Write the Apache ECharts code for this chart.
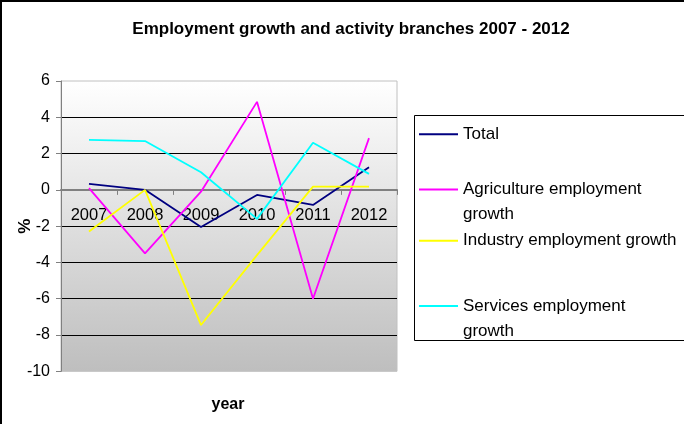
<!DOCTYPE html>
<html>
<head>
<meta charset="utf-8">
<script src="https://cdn.jsdelivr.net/npm/echarts@6/dist/echarts.min.js"></script>
<style>
  html, body { margin: 0; padding: 0; background: #fff; }
  #chart { width: 684px; height: 424px; }
</style>
</head>
<body>
<div id="chart"></div>
<script>
// Years on the category axis
const years = ['2007', '2008', '2009', '2010', '2011', '2012'];

// Annual employment growth, %
const totalGrowth       = [0.33, 0.0, -2.05, -0.28, -0.83, 1.25];
const agricultureGrowth = [0.1, -3.5, -0.1, 4.85, -6.0, 2.85];
const industryGrowth    = [-2.3, 0.0, -7.45, -3.6, 0.18, 0.18];
const servicesGrowth    = [2.76, 2.69, 0.97, -1.6, 2.6, 0.88];

// Value axis ticks
const yMin = -10, yMax = 6, yStep = 2;

const seriesNames = [
  'Total',
  'Agriculture employment growth',
  'Industry employment growth',
  'Services employment growth'
];
const seriesColors = ['#000080', '#FF00FF', '#FFFF00', '#00FFFF'];
const seriesData = [totalGrowth, agricultureGrowth, industryGrowth, servicesGrowth];

const FONT = "'Liberation Sans', Arial, sans-serif";

// Plot box
const GRID = { left: 61, top: 81, width: 336, height: 290.3 };

// Legend entries: each one is placed on its own; wrapped labels get a blank
// leading line so that the first text line sits level with the swatch
const LINE_H = 25;
const legendRows = [
  { name: seriesNames[0], iconY: 134.3, label: 'Total', lines: 1 },
  { name: seriesNames[1], iconY: 189.5, label: '\nAgriculture employment\ngrowth', lines: 3 },
  { name: seriesNames[2], iconY: 240.7, label: 'Industry employment growth', lines: 1 },
  { name: seriesNames[3], iconY: 306.0, label: '\nServices employment\ngrowth', lines: 3 }
];

const chart = echarts.init(document.getElementById('chart'), null, { renderer: 'canvas' });

// Category axis sits on the zero line of the value axis
const zeroOffset = -GRID.height * (0 - yMin) / (yMax - yMin);

chart.setOption({
  animation: false,
  backgroundColor: '#ffffff',
  title: [
    {
      text: 'Employment growth and activity branches 2007 - 2012',
      left: 351, top: 21, textAlign: 'center', padding: 0,
      textStyle: { fontFamily: FONT, fontSize: 17, fontWeight: 'bold', color: '#000' }
    },
    {
      text: 'year',
      left: 228, top: 397, textAlign: 'center', padding: 0,
      textStyle: { fontFamily: FONT, fontSize: 16, fontWeight: 'bold', color: '#000' }
    }
  ],
  graphic: [
    {
      type: 'rect', z: -10, silent: true,
      shape: { x: 1, y: 1, width: 760, height: 480 },
      style: { fill: 'none', stroke: '#000', lineWidth: 2 }
    },
    {
      type: 'rect', z: -5, silent: true,
      shape: { x: 414.5, y: 115.5, width: 320, height: 225 },
      style: { fill: '#fff', stroke: '#000', lineWidth: 1 }
    }
  ],
  legend: legendRows.map(row => ({
    data: [row.name],
    orient: 'vertical',
    left: 419,
    top: row.iconY - row.lines * LINE_H / 2,
    padding: 0,
    itemWidth: 39,
    itemHeight: 2,
    icon: 'rect',
    selectedMode: false,
    formatter: () => row.label,
    textStyle: { fontFamily: FONT, fontSize: 17, color: '#000', lineHeight: LINE_H }
  })),
  grid: Object.assign({}, GRID, {
    show: true,
    borderColor: '#c0c0c0', borderWidth: 1,
    backgroundColor: {
      type: 'linear', x: 0, y: 0, x2: 0, y2: 1,
      colorStops: [
        { offset: 0, color: '#ffffff' },
        { offset: 1, color: '#bebebe' }
      ]
    }
  }),
  xAxis: {
    type: 'category',
    data: years,
    boundaryGap: true,
    position: 'bottom',
    offset: zeroOffset,
    axisLine: { onZero: false, lineStyle: { color: '#808080', width: 2 } },
    axisTick: { show: true, inside: false, length: 5, lineStyle: { color: '#808080', width: 1 } },
    axisLabel: { fontFamily: FONT, fontSize: 16.5, color: '#000', margin: 17 },
    splitLine: { show: false },
    z: 3
  },
  yAxis: {
    type: 'value',
    min: yMin, max: yMax, interval: yStep,
    name: '%',
    nameLocation: 'middle',
    nameRotate: 90,
    nameGap: 27,
    nameMoveOverlap: false,
    nameTextStyle: { fontFamily: FONT, fontSize: 17, fontWeight: 'bold', color: '#000' },
    axisLine: { show: true, onZero: false, lineStyle: { color: '#808080', width: 1 } },
    axisTick: { show: true, inside: false, length: 5, lineStyle: { color: '#808080' } },
    axisLabel: { fontFamily: FONT, fontSize: 16, color: '#000', margin: 11 },
    splitLine: { show: true, showMinLine: false, showMaxLine: false, lineStyle: { color: '#000', width: 1 } }
  },
  series: seriesNames.map((name, i) => ({
    name,
    type: 'line',
    data: seriesData[i],
    color: seriesColors[i],
    showSymbol: false,
    symbol: 'none',
    lineStyle: { color: seriesColors[i], width: 1.8 },
    z: 4 + i
  }))
});
</script>
</body>
</html>
